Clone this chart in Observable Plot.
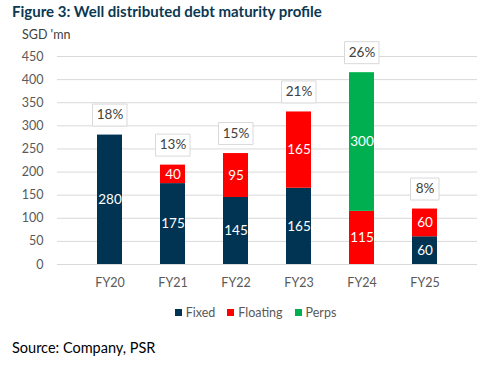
<!DOCTYPE html>
<html>
<head>
<meta charset="utf-8">
<script src="https://cdn.jsdelivr.net/npm/d3@7"></script>
<script src="https://cdn.jsdelivr.net/npm/@observablehq/plot@0.6"></script>
<style>
  html, body { margin: 0; padding: 0; background: #fff; }
  #wrap { position: relative; width: 493px; height: 365px; font-family: Lato, "Open Sans", sans-serif; overflow: hidden; }
  #title { position: absolute; left: 12px; top: 2px; font-weight: bold; font-size: 15px; color: #0B3852; white-space: nowrap; }
  #unit { position: absolute; left: 22px; top: 27px; font-size: 12.5px; color: #404040; }
  #chart { position: absolute; left: 0; top: 28px; }
  #legend { position: absolute; top: 305px; left: 0; width: 493px; display: flex; justify-content: center; gap: 0; font-size: 12.5px; color: #595959; padding-left: 18px; box-sizing: border-box; }
  #legend span.item { display: inline-flex; align-items: center; margin: 0 6px; }
  #legend span.sw { width: 7px; height: 7px; display: inline-block; margin-right: 4px; }
  #source { position: absolute; left: 12px; top: 339px; font-size: 14.5px; color: #000; }
</style>
</head>
<body>
<div id="wrap">
  <div id="title">Figure 3: Well distributed debt maturity profile</div>
  <div id="unit">SGD 'mn</div>
  <div id="chart"></div>
  <div id="legend"></div>
  <div id="source">Source: Company, PSR</div>
</div>
<script>
const years = ["FY20", "FY21", "FY22", "FY23", "FY24", "FY25"];
const seriesNames = ["Fixed", "Floating", "Perps"];
const fixed = [280, 175, 145, 165, 0, 60];
const floating = [0, 40, 95, 165, 115, 60];
const perps = [0, 0, 0, 0, 300, 0];
const shares = ["18%", "13%", "15%", "21%", "26%", "8%"];
const yTicks = [0, 50, 100, 150, 200, 250, 300, 350, 400, 450];
const colors = ["#003452", "#FF0000", "#00B050"];

const seriesValues = [fixed, floating, perps];
const rows = [];
years.forEach((yr, i) => {
  seriesNames.forEach((s, k) => rows.push({year: yr, series: s, value: seriesValues[k][i]}));
});
const totals = years.map((yr, i) => ({
  year: yr,
  total: fixed[i] + floating[i] + perps[i],
  share: shares[i]
}));

const boxSymbol = {
  draw(ctx, size) {
    const hw = Math.sqrt(size / Math.PI);
    ctx.rect(-hw, -11, hw * 2, 22);
  }
};

const plot = Plot.plot({
  width: 493,
  height: 270,
  marginLeft: 57,
  marginRight: 16,
  marginTop: 28,
  marginBottom: 34,
  style: { fontFamily: "Lato, 'Open Sans', sans-serif", fontSize: "12.5px", color: "#595959", background: "transparent" },
  x: { domain: years, padding: 0.6, label: null, tickSize: 0, tickPadding: 14 },
  y: { domain: [0, 450], ticks: yTicks, label: null, tickSize: 0, tickPadding: 14 },
  color: { domain: seriesNames, range: colors },
  r: { type: "identity" },
  marks: [
    Plot.gridY(yTicks, { stroke: "#D9D9D9", strokeOpacity: 1, strokeWidth: 1 }),
    Plot.barY(rows, { x: "year", y: "value", fill: "series", order: seriesNames }),
    Plot.text(rows, Plot.stackY({
      x: "year", y: "value", order: seriesNames, z: "series",
      text: d => d.value > 0 ? String(d.value) : "",
      fill: "white", fontSize: 13.5
    })),
    Plot.dot(totals, {
      x: "year", y: "total", dy: -20,
      symbol: boxSymbol, r: d => 8 + 3 * d.share.length,
      fill: "white", stroke: "#D9D9D9", strokeWidth: 1,
      strokeLinejoin: "miter", strokeLinecap: "square"
    }),
    Plot.text(totals, {
      x: "year", y: "total", dy: -20, text: "share",
      fill: "#404040", fontSize: 13.5
    })
  ]
});
document.getElementById("chart").appendChild(plot);

const legend = document.getElementById("legend");
seriesNames.forEach((s, k) => {
  const item = document.createElement("span");
  item.className = "item";
  const sw = document.createElement("span");
  sw.className = "sw";
  sw.style.background = colors[k];
  item.appendChild(sw);
  item.appendChild(document.createTextNode(s));
  legend.appendChild(item);
});
</script>
</body>
</html>
